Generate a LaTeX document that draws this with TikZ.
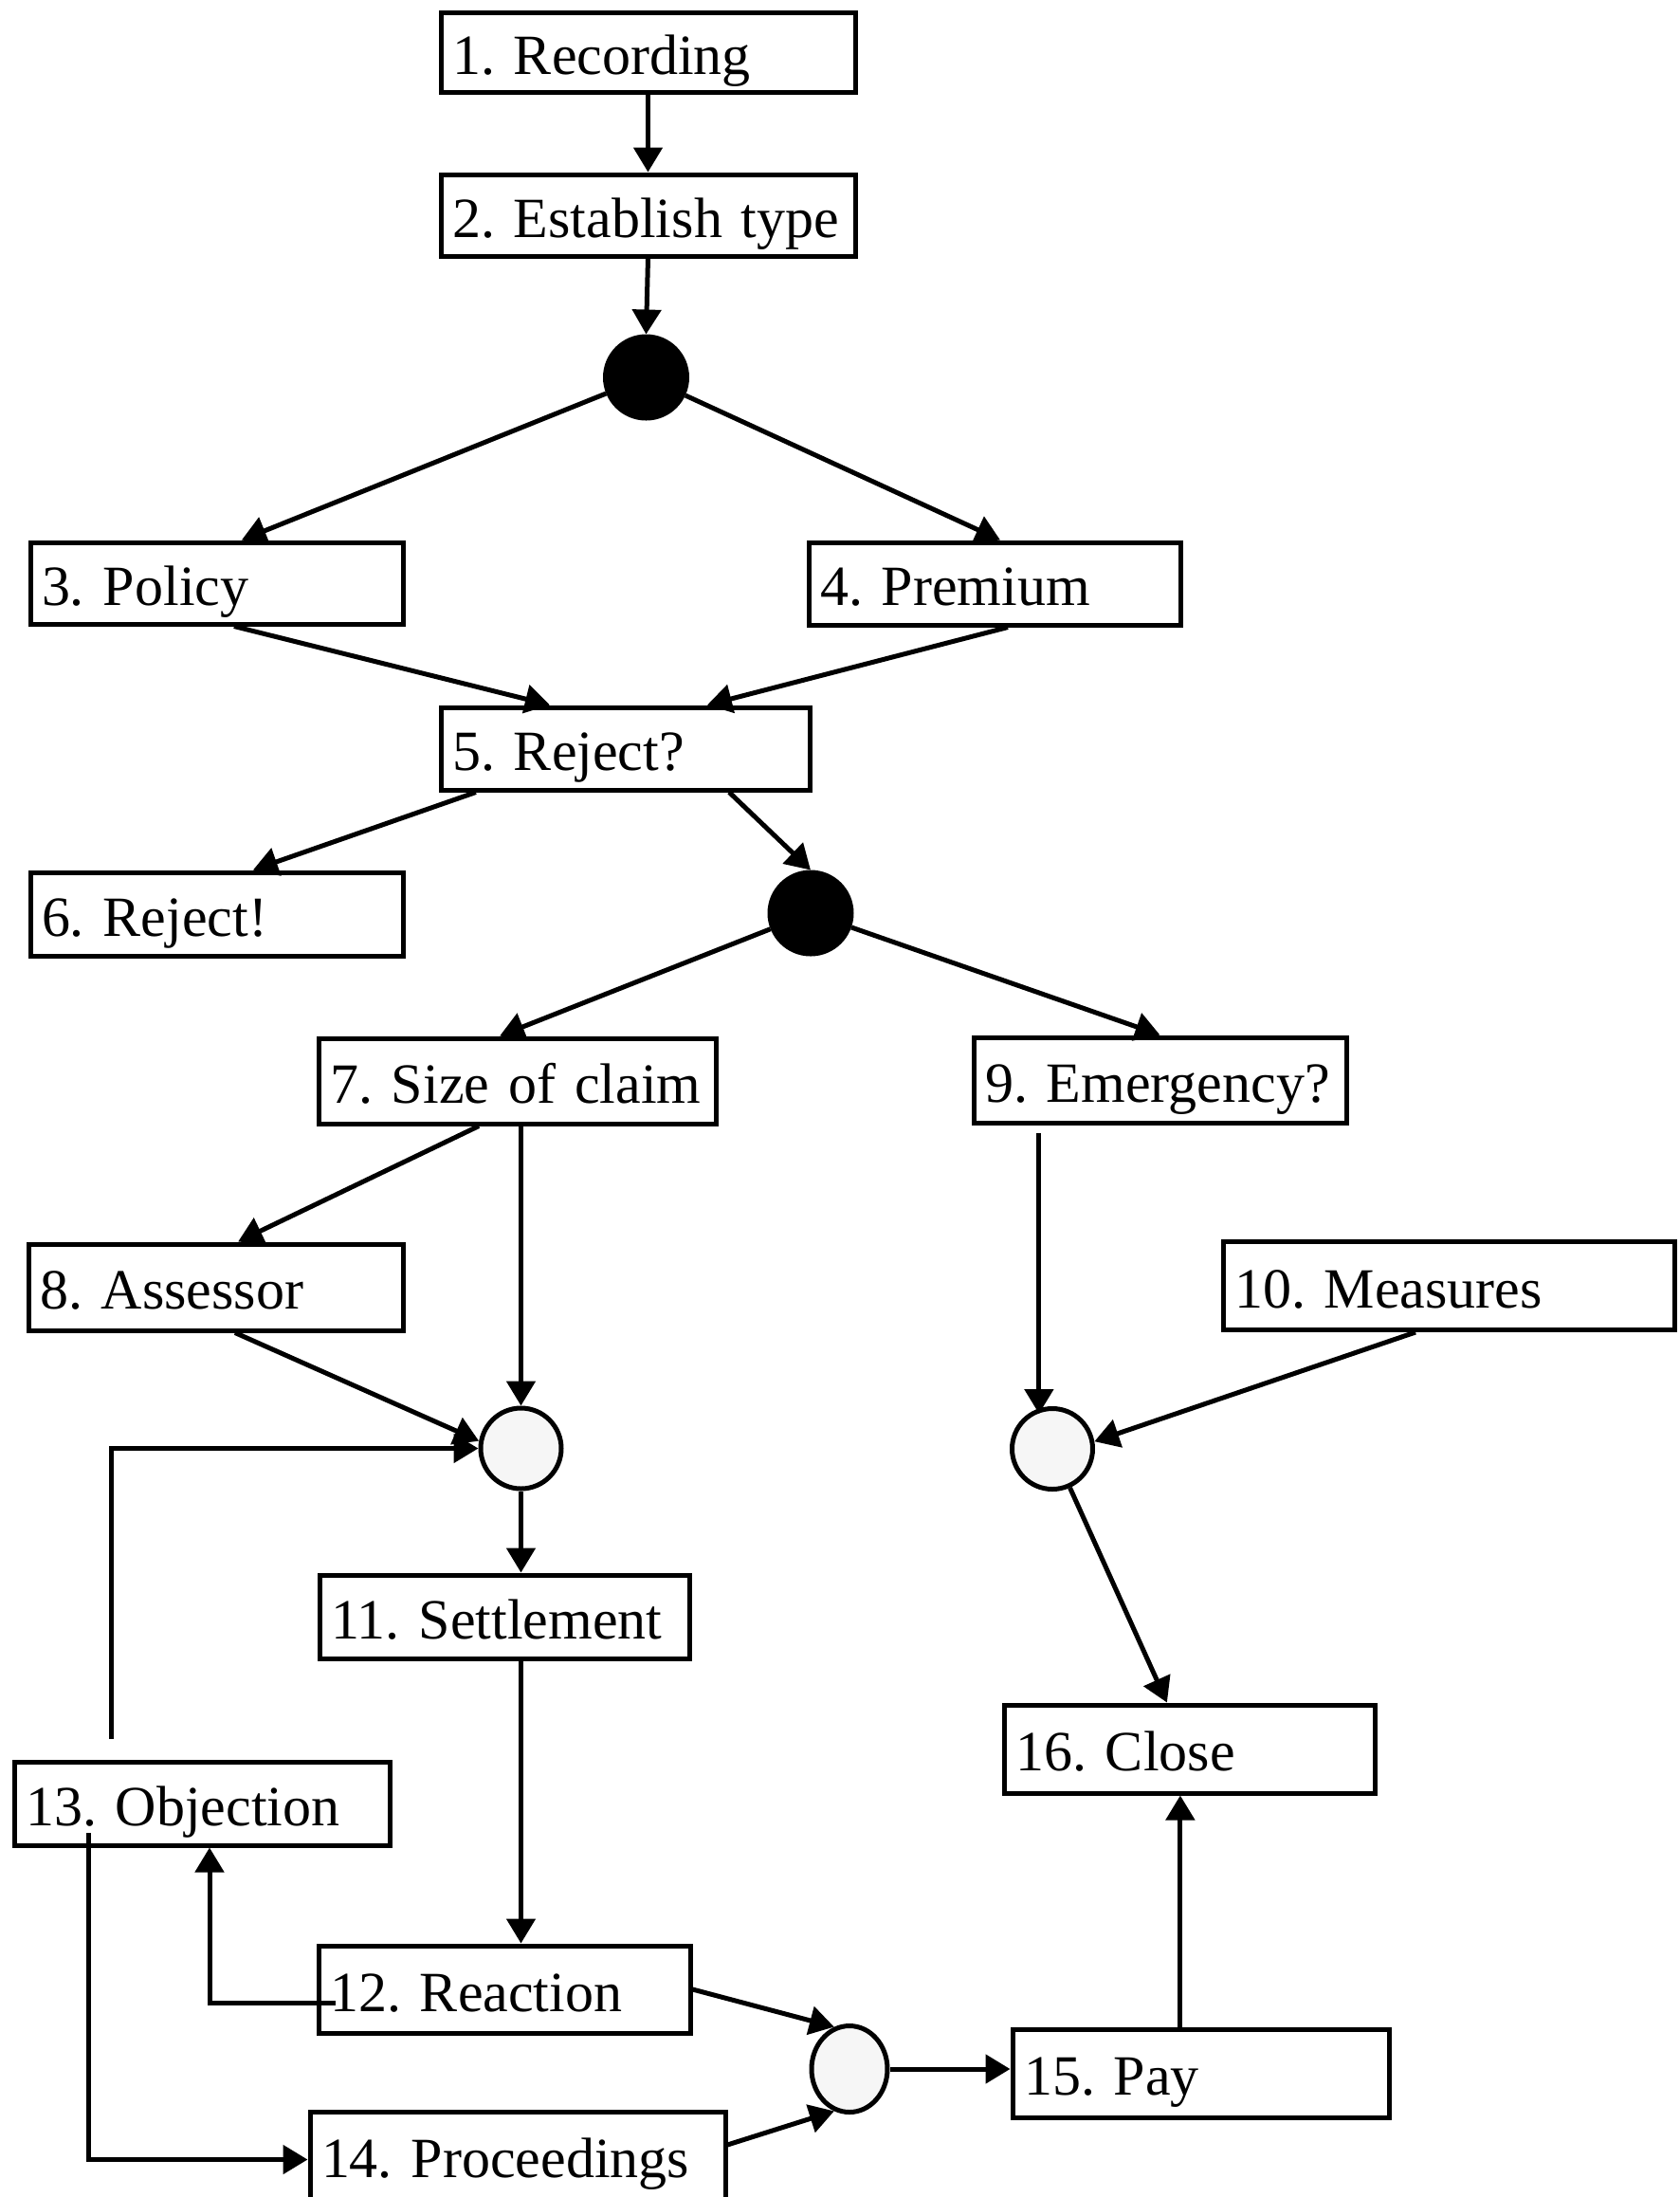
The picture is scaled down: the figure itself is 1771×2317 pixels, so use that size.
\documentclass[tikz,border=0pt]{standalone}
\usepackage{fontspec}
\setmainfont{Liberation Serif}
\usetikzlibrary{arrows.meta,shapes.geometric}
\begin{document}
\begin{tikzpicture}[x=0.25pt,y=-0.25pt,
  font=\fontsize{15pt}{18pt}\selectfont\frenchspacing,
  bx/.style 2 args={draw, line width=1.25pt, inner xsep=3pt, inner ysep=0pt,
    text width=#1, minimum height=#2, align=left, text height=13pt, text depth=1.5pt},
  blackdot/.style={circle, draw, fill=black, line width=1.25pt, minimum size=21.5pt, inner sep=0pt},
  opendot/.style={circle, draw, fill=gray!7, line width=1.25pt, minimum size=21.25pt, inner sep=0pt},
  arr/.style={line width=1.25pt, -{Triangle[length=6.5pt,width=7.5pt]}},
  ln/.style={line width=1.25pt}]
\useasboundingbox (0,0) rectangle (1771,2317);
% boxes
\node[bx={103.25pt}{21pt}]    (n1)  at (683.5,55)     {1. Recording};
\node[bx={103.25pt}{21.5pt}]  (n2)  at (683.5,227)    {2. Establish type};
\node[bx={92.25pt}{21.5pt}]   (n3)  at (228.5,615)    {3. Policy};
\node[bx={92pt}{21.75pt}]     (n4)  at (1049,615.5)   {4. Premium};
\node[bx={91.25pt}{21.75pt}]  (n5)  at (659.5,789.5)  {5. Reject?};
\node[bx={92.25pt}{22pt}]     (n6)  at (228.5,964)    {6. Reject!};
\node[bx={98.75pt}{22.5pt}]   (n7)  at (545.5,1140)   {7. Size of claim};
\node[bx={92.25pt}{22.5pt}]   (n9)  at (1223.5,1139)  {9. Emergency?};
\node[bx={92.75pt}{22.75pt}]  (n8)  at (227.5,1357.5) {8. Assessor};
\node[bx={113pt}{23.25pt}]    (n10) at (1528,1356)    {10. Measures};
\node[bx={91.5pt}{22pt}]      (n11) at (532,1705)     {11. Settlement};
\node[bx={91.75pt}{23.25pt}]  (n16) at (1254.5,1844.5){16. Close};
\node[bx={93pt}{22pt}]        (n13) at (213,1902)     {13. Objection};
\node[bx={92pt}{23pt}]        (n12) at (532,2098)     {12. Reaction};
\node[bx={93.25pt}{23.25pt}]  (n15) at (1266.5,2186.5){15. Pay};
\node[bx={103.5pt}{23.25pt}]  (n14) at (546,2273.5)   {14. Proceedings};
% junctions
\node[blackdot] (jA) at (681.5,398) {};
\node[blackdot] (jB) at (855,963) {};
\node[opendot]  (jC) at (549.5,1527.5) {};
\node[opendot]  (jD) at (1110,1528) {};
\node[ellipse, draw, fill=gray!7, line width=1.25pt, minimum width=20pt, minimum height=22.75pt, inner sep=0pt] (jE) at (896,2182) {};
% connectors
\draw[arr] (n1.south) -- (n2.north);
\draw[arr] (n2.south) -- (jA.north);
\draw[arr] (jA) -- ([xshift=6.6pt]n3.north);
\draw[arr] (jA) -- ([xshift=1.5pt]n4.north);
\draw[arr] ([xshift=4.6pt]n3.south) -- ([xshift=-19.9pt]n5.north);
\draw[arr] ([xshift=3.5pt]n4.south) -- ([xshift=21.6pt]n5.north);
\draw[arr] ([xshift=-39.4pt]n5.south) -- ([xshift=9.6pt]n6.north);
\draw[arr] ([xshift=27.4pt]n5.south) -- (jB.north);
\draw[arr] (jB) -- ([xshift=-4.6pt]n7.north);
\draw[arr] (jB) -- (n9.north);
\draw[arr] ([xshift=-10.1pt]n7.south) -- ([xshift=5.9pt]n8.north);
\draw[arr] (jC.north |- n7.south) -- (jC.north);
\draw[arr] ([xshift=5.1pt]n8.south) -- (jC.170);
\draw[arr] ([xshift=-24pt,yshift=5.5pt]n13.north) |- (jC.west);
\draw[arr] (jC.south) -- (jC.south |- n11.north);
\draw[arr] (jC.south |- n11.south) -- (jC.south |- n12.north);
\draw[arr] ([xshift=5pt,yshift=-3.5pt]n12.west) -| ([xshift=2pt]n13.south);
\draw[arr] ([xshift=-30pt,yshift=-7.75pt]n13.center) |- ([yshift=-1pt]n14.west);
\draw[arr] (n12.east) -- (jE.110);
\draw[arr] ([yshift=2.9pt]n14.east) -- (jE.250);
\draw[arr] (jE.east) -- (jE.east -| n15.west);
\draw[arr] ([xshift=-5.4pt]n15.north) -- ([xshift=-5.4pt]n15.north |- n16.south);
\draw[arr] ([xshift=-31.9pt,yshift=-2pt]n9.south) -- ([xshift=-31.9pt,yshift=-2pt]n9.south |- jD.north);
\draw[arr] ([xshift=-8.75pt]n10.south) -- (jD.10);
\draw[arr] (jD) -- ([xshift=-5.9pt]n16.north);
\end{tikzpicture}
\end{document}
